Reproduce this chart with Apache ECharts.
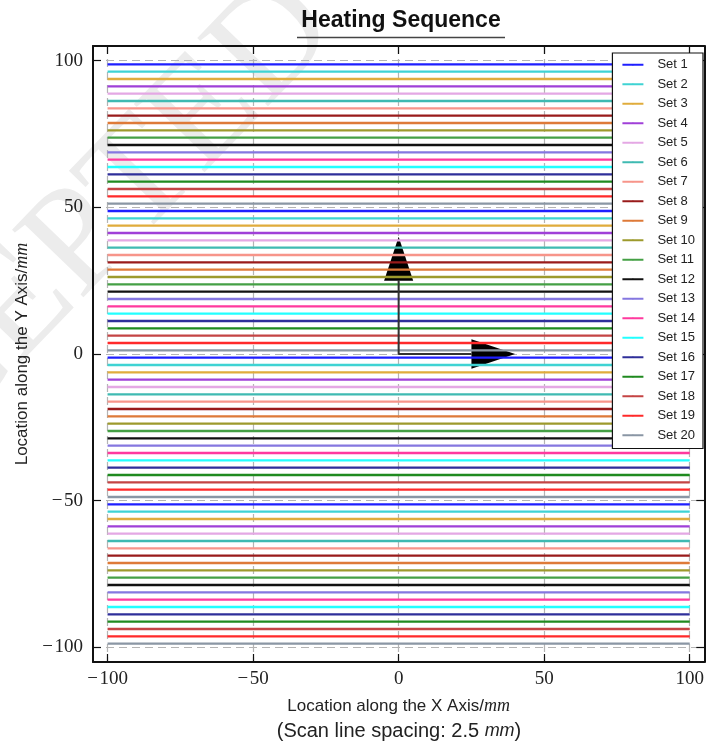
<!DOCTYPE html>
<html>
<head>
<meta charset="utf-8">
<title>Heating Sequence</title>
<script src="https://cdn.jsdelivr.net/npm/echarts@6/dist/echarts.min.js"></script>
<style>
  html, body { margin: 0; padding: 0; background: #fff; }
  #chartDom { width: 707px; height: 743px; }
</style>
</head>
<body>
<div id="chartDom"></div>
<script>
//--------------------------------------------------------------------------
// data
//--------------------------------------------------------------------------
const setNames = [
  'Set 1', 'Set 2', 'Set 3', 'Set 4', 'Set 5', 'Set 6', 'Set 7', 'Set 8', 'Set 9', 'Set 10',
  'Set 11', 'Set 12', 'Set 13', 'Set 14', 'Set 15', 'Set 16', 'Set 17', 'Set 18', 'Set 19', 'Set 20'
]
const setColors = [
  '#1f1fff', '#3fd3d3', '#e0ac3c', '#a040d8', '#e4a8e4', '#3fbab2', '#f7958a', '#991b1b', '#de7a38', '#9d9a2c',
  '#45a045', '#111111', '#8577e0', '#ff3a9e', '#22ffff', '#2f2f9a', '#1f8a1f', '#c44444', '#ff2a2a', '#8a96a4'
]
// y of every scan line, 4 lines per set (mm)
const setLineY = [
  [98.75, 48.75, -1.25, -51.25],
  [96.25, 46.25, -3.75, -53.75],
  [93.75, 43.75, -6.25, -56.25],
  [91.25, 41.25, -8.75, -58.75],
  [88.75, 38.75, -11.25, -61.25],
  [86.25, 36.25, -13.75, -63.75],
  [83.75, 33.75, -16.25, -66.25],
  [81.25, 31.25, -18.75, -68.75],
  [78.75, 28.75, -21.25, -71.25],
  [76.25, 26.25, -23.75, -73.75],
  [73.75, 23.75, -26.25, -76.25],
  [71.25, 21.25, -28.75, -78.75],
  [68.75, 18.75, -31.25, -81.25],
  [66.25, 16.25, -33.75, -83.75],
  [63.75, 13.75, -36.25, -86.25],
  [61.25, 11.25, -38.75, -88.75],
  [58.75, 8.75, -41.25, -91.25],
  [56.25, 6.25, -43.75, -93.75],
  [53.75, 3.75, -46.25, -96.25],
  [51.25, 1.25, -48.75, -98.75]
]
const lineStartX = -100
const lineEndX = 100
const axisMin = -105
const axisMax = 105
const tickValues = [-100, -50, 0, 50, 100]
// direction arrows
const arrowShaft = [[0, 25], [0, 0], [25, 0]]
const arrowHeads = [
  [[-5, 25], [5, 25], [0, 40]],
  [[25, -5], [25, 5], [40, 0]]
]

//--------------------------------------------------------------------------
// options
//--------------------------------------------------------------------------
const tickLabel = (v) => String(v).replace('-', '\u2212\u200a')
const nameRich = {
  a: { fontFamily: 'Liberation Sans', fontSize: 17, color: '#222' },
  m: { fontFamily: 'Liberation Serif', fontStyle: 'italic', fontSize: 18, color: '#222' }
}

function makeAxis(position, main) {
  return {
    type: 'value',
    position: position,
    min: axisMin,
    max: axisMax,
    axisLine: { show: true, onZero: false, lineStyle: { color: '#111', width: 2 } },
    axisTick: { show: true, inside: true, length: 8, customValues: tickValues, lineStyle: { color: '#111', width: 1.2 } },
    axisLabel: {
      show: main,
      customValues: tickValues,
      formatter: tickLabel,
      fontFamily: 'Liberation Serif',
      fontSize: 19,
      color: '#222',
      margin: position === 'left' ? 10 : 8
    },
    splitLine: { show: main, lineStyle: { color: '#b4b4b4', type: [8, 5], width: 1.2 } }
  }
}

const xMain = makeAxis('bottom', true)
xMain.name = '{a|Location along the X Axis/}{m|mm}'
xMain.nameLocation = 'middle'
xMain.nameGap = 35
xMain.nameTextStyle = { rich: nameRich }

const yMain = makeAxis('left', true)
yMain.name = '{a|Location along the Y Axis/}{m|mm}'
yMain.nameLocation = 'middle'
yMain.nameGap = 57
yMain.nameTextStyle = { rich: nameRich }

// each set: 4 separate horizontal segments, split by empty points
const lineSeries = setNames.map((name, i) => {
  const pts = []
  setLineY[i].forEach((y) => {
    pts.push([lineStartX, y], [lineEndX, y], ['-', '-'])
  })
  return {
    name: name,
    type: 'line',
    z: 3,
    silent: true,
    symbol: 'none',
    connectNulls: false,
    color: setColors[i],
    lineStyle: { color: setColors[i], width: 2.4 },
    data: pts
  }
})

const option = {
  animation: false,
  backgroundColor: '#fff',
  grid: { left: 93, right: 0, top: 46, bottom: 81 },
  xAxis: [xMain, makeAxis('top', false)],
  yAxis: [yMain, makeAxis('right', false)],
  legend: {
    data: setNames,
    orient: 'vertical',
    right: 4,
    top: 53,
    itemWidth: 21,
    itemHeight: 2,
    itemGap: 0,
    padding: [2, 8, 3.5, 9],
    backgroundColor: '#fff',
    borderColor: '#111',
    borderWidth: 1.2,
    selectedMode: false,
    textStyle: { fontFamily: 'Liberation Sans', fontSize: 13, color: '#222', lineHeight: 19.5, padding: [0, 0, 0, 9] }
  },
  graphic: [
    {
      type: 'text',
      z: 0,
      silent: true,
      x: 312,
      y: 4,
      rotation: 46 * Math.PI / 180,
      style: { text: 'ACCEPTED', fill: '#ececec', font: '150px "Liberation Serif"', align: 'right', verticalAlign: 'middle' }
    },
    {
      type: 'text',
      x: 401,
      y: 21,
      style: { text: 'Heating Sequence', fill: '#111', font: 'bold 23px "Liberation Sans"', align: 'center', verticalAlign: 'middle' }
    },
    {
      type: 'line',
      shape: { x1: 297, y1: 37.5, x2: 505, y2: 37.5 },
      style: { stroke: '#444', lineWidth: 1.5 }
    },
    {
      type: 'text',
      x: 399,
      y: 731,
      style: {
        text: '{a|(Scan line spacing: 2.5 }{m|mm}{a|)}',
        align: 'center',
        verticalAlign: 'middle',
        rich: {
          a: { fontFamily: 'Liberation Sans', fontSize: 20, fill: '#222' },
          m: { fontFamily: 'Liberation Sans', fontStyle: 'italic', fontSize: 18, fill: '#222' }
        }
      }
    }
  ],
  series: [
    {
      type: 'custom',
      z: 2,
      silent: true,
      data: arrowHeads.map((h, i) => i),
      renderItem: (params, api) => {
        const pts = arrowHeads[params.dataIndex].map((p) => api.coord(p))
        return { type: 'polygon', shape: { points: pts }, style: { fill: '#000' } }
      }
    },
    ...lineSeries,
    {
      type: 'line',
      z: 4,
      silent: true,
      symbol: 'none',
      data: arrowShaft,
      lineStyle: { color: '#333', width: 2 }
    }
  ]
}

const myChart = echarts.init(document.getElementById('chartDom'))
myChart.setOption(option)
</script>
</body>
</html>
